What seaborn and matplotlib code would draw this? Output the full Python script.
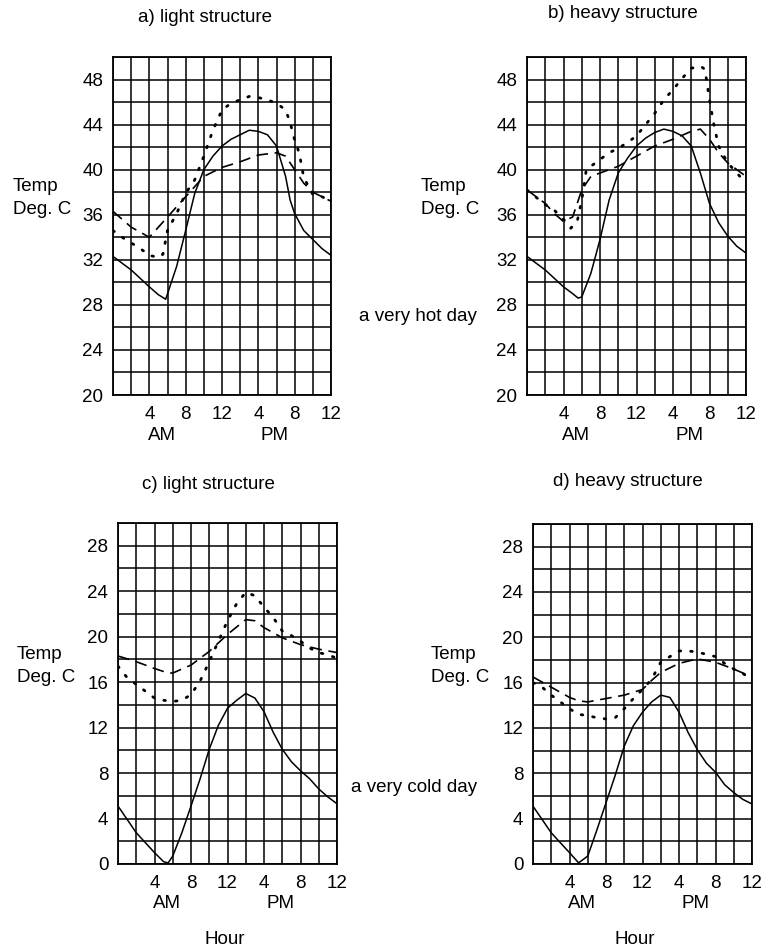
import matplotlib
matplotlib.use("Agg")
import matplotlib.pyplot as plt
import seaborn as sns

# ---------------- data ----------------
x_tick_pos = [4, 8, 12, 16, 20, 24]
x_tick_labels = ["4", "8", "12", "4", "8", "12"]

# a) light structure, very hot day
a_solid_h = [0, 2, 4, 5, 5.8, 7, 8, 9, 10, 11, 12, 13, 14, 15, 16, 17, 18, 19, 19.5, 20, 21, 22, 23, 24]
a_solid_v = [32.3, 31.1, 29.6, 28.9, 28.5, 31.4, 34.6, 37.9, 40.0, 41.2, 42.1, 42.7, 43.1, 43.5, 43.4, 43.1, 42.1, 39.4, 37.3, 36.1, 34.6, 33.8, 33.0, 32.4]
a_dash_h = [0, 2, 4, 6, 8, 10, 12, 14, 16, 18, 19, 20, 21, 22, 23, 24]
a_dash_v = [36.3, 34.9, 34.0, 35.8, 37.6, 39.4, 40.2, 40.7, 41.3, 41.5, 41.2, 40.0, 38.8, 38.0, 37.6, 37.2]
a_dot_h = [0, 1, 2, 3, 4, 5, 5.5, 6, 7, 8, 9, 10, 11, 12, 13, 14, 15, 16, 17, 18, 19, 19.5, 20, 20.5, 21, 22, 23, 24]
a_dot_v = [34.6, 34.0, 33.5, 33.0, 32.4, 32.2, 32.5, 34.6, 36.1, 37.9, 39.1, 41.2, 43.5, 45.3, 45.9, 46.2, 46.5, 46.4, 46.2, 45.9, 45.3, 44.2, 42.6, 41.5, 39.3, 37.8, 37.6, 37.2]

# b) heavy structure, very hot day
b_solid_h = [0, 2, 4, 5, 5.6, 6, 7, 8, 9, 10, 11, 12, 13, 14, 15, 16, 17, 18, 19, 20, 21, 22, 23, 24]
b_solid_v = [32.3, 31.1, 29.6, 29.0, 28.6, 28.7, 30.8, 33.8, 37.3, 39.7, 41.0, 42.1, 42.8, 43.3, 43.6, 43.4, 43.0, 42.1, 39.7, 37.0, 35.3, 34.1, 33.2, 32.6]
b_dash_h = [0, 2, 3, 4, 5, 6, 7, 8, 10, 12, 14, 16, 18, 19, 20, 21, 22, 23, 24]
b_dash_v = [38.2, 37.0, 36.1, 35.4, 35.8, 38.2, 39.4, 39.7, 40.3, 41.2, 42.1, 42.7, 43.4, 43.6, 42.7, 41.5, 40.6, 40.0, 39.4]
b_dot_h = [0, 2, 3, 4, 4.8, 5.5, 6, 6.5, 7, 8, 9, 10, 11, 12, 13, 14, 15, 16, 17, 18, 19, 19.5, 20, 20.5, 21, 22, 23, 24]
b_dot_v = [38.2, 36.9, 36.4, 35.6, 34.8, 35.4, 37.3, 40.0, 40.3, 40.9, 41.5, 41.9, 42.4, 43.0, 44.0, 45.0, 46.2, 47.1, 48.1, 49.0, 49.2, 48.9, 46.2, 43.9, 42.1, 40.6, 39.7, 38.8]

# c) light structure, very cold day
c_solid_h = [0, 2, 4, 5, 5.5, 6, 7, 8, 9, 10, 11, 12, 13, 14, 15, 16, 17, 18, 19, 20, 21, 22, 23, 24]
c_solid_v = [5.1, 2.75, 1.0, 0.2, 0.1, 0.7, 2.75, 5.1, 7.5, 10.1, 12.2, 13.7, 14.4, 15.0, 14.6, 13.4, 11.6, 10.1, 9.0, 8.2, 7.5, 6.6, 5.9, 5.3]
c_dash_h = [0, 2, 4, 5.5, 6, 8, 10, 12, 14, 15, 16, 18, 20, 22, 24]
c_dash_v = [18.3, 17.8, 17.2, 16.8, 16.8, 17.5, 18.7, 20.2, 21.5, 21.4, 20.8, 19.9, 19.3, 18.9, 18.6]
c_dot_h = list(range(25))
c_dot_v = [17.4, 16.4, 15.8, 15.2, 14.6, 14.4, 14.3, 14.4, 14.9, 16.1, 17.8, 19.6, 21.4, 22.9, 23.9, 23.6, 22.6, 21.7, 20.5, 20.1, 19.6, 19.0, 18.6, 18.4, 18.1]

# d) heavy structure, very cold day
d_solid_h = [0, 2, 4, 5, 6, 7, 8, 9, 10, 11, 12, 13, 14, 15, 16, 17, 18, 19, 20, 21, 22, 23, 24]
d_solid_v = [5.1, 2.75, 1.0, 0.1, 0.7, 3.0, 5.4, 7.8, 10.4, 12.2, 13.4, 14.3, 14.9, 14.7, 13.4, 11.6, 10.1, 8.9, 8.1, 7.0, 6.3, 5.7, 5.3]
d_dash_h = [0, 2, 4, 5, 6, 8, 10, 12, 13, 14, 16, 18, 20, 22, 24]
d_dash_v = [16.5, 15.6, 14.7, 14.4, 14.3, 14.6, 14.9, 15.4, 16.2, 16.9, 17.7, 18.1, 17.8, 17.2, 16.5]
d_dot_h = list(range(25))
d_dot_v = [16.0, 15.6, 14.9, 14.3, 13.7, 13.2, 13.1, 12.9, 12.8, 12.9, 13.7, 14.6, 15.4, 16.3, 17.8, 18.3, 18.8, 18.8, 18.7, 18.5, 18.3, 17.7, 17.2, 16.8, 16.3]

titles = ["a) light structure", "b) heavy structure", "c) light structure", "d) heavy structure"]

# ---------------- figure ----------------
sns.set_style("white")
plt.rcParams["font.family"] = ["Liberation Sans", "DejaVu Sans"]
plt.rcParams["text.color"] = "black"
plt.rcParams["xtick.color"] = "black"
plt.rcParams["ytick.color"] = "black"
FS = 13.5

W, H = 761, 952
fig = plt.figure(figsize=(W / 100, H / 100), dpi=100)

def fx(px):
    return px / W

def fy(py):
    return 1 - py / H

panels = [
    dict(box=(113, 57, 218, 338), ylim=(20, 50), yt=range(20, 49, 4),
         s=(a_solid_h, a_solid_v), d=(a_dash_h, a_dash_v), o=(a_dot_h, a_dot_v)),
    dict(box=(527, 57, 219, 338), ylim=(20, 50), yt=range(20, 49, 4),
         s=(b_solid_h, b_solid_v), d=(b_dash_h, b_dash_v), o=(b_dot_h, b_dot_v)),
    dict(box=(118, 523, 219, 341), ylim=(0, 30), yt=range(0, 29, 4),
         s=(c_solid_h, c_solid_v), d=(c_dash_h, c_dash_v), o=(c_dot_h, c_dot_v)),
    dict(box=(533, 524, 219, 340), ylim=(0, 30), yt=range(0, 29, 4),
         s=(d_solid_h, d_solid_v), d=(d_dash_h, d_dash_v), o=(d_dot_h, d_dot_v)),
]

for p in panels:
    l, t, w, h = p["box"]
    ax = fig.add_axes([fx(l), fy(t + h), w / W, h / H])
    ax.set_xlim(0, 24)
    ax.set_ylim(*p["ylim"])
    ax.set_xticks(x_tick_pos)
    ax.set_xticklabels(x_tick_labels)
    ax.set_yticks(list(p["yt"]))
    ax.set_xticks(range(0, 25, 2), minor=True)
    ax.set_yticks(range(p["ylim"][0], p["ylim"][1] + 1, 2), minor=True)
    ax.grid(which="both", color="black", linewidth=1.1)
    ax.set_axisbelow(True)
    ax.tick_params(which="both", length=0, labelsize=FS,
                   colors="black", labelcolor="black")
    ax.tick_params(axis="y", pad=7)
    ax.tick_params(axis="x", pad=8)
    for sp in ax.spines.values():
        sp.set_color("black")
        sp.set_linewidth(1.3)

    sns.lineplot(x=p["s"][0], y=p["s"][1], ax=ax, color="black", linewidth=1.1,
                 linestyle="-", zorder=3)
    sns.lineplot(x=p["d"][0], y=p["d"][1], ax=ax, color="black", linewidth=1.2,
                 linestyle=(0, (7, 4)), zorder=3)
    sns.lineplot(x=p["o"][0], y=p["o"][1], ax=ax, color="black", linewidth=2.0,
                 linestyle=(0, (0.6, 3.6)), dash_capstyle="round", zorder=3)
    ax.set_xlabel("")
    ax.set_ylabel("")

    ax.annotate("AM", xy=(5.4, 0), xycoords=("data", "axes fraction"),
                xytext=(0, -40), textcoords="offset pixels",
                ha="center", va="center", fontsize=FS, color="black")
    ax.annotate("PM", xy=(17.8, 0), xycoords=("data", "axes fraction"),
                xytext=(0, -40), textcoords="offset pixels",
                ha="center", va="center", fontsize=FS, color="black")

# titles
fig.text(fx(205), fy(18), titles[0], ha="center", va="center", fontsize=FS)
fig.text(fx(623), fy(14), titles[1], ha="center", va="center", fontsize=FS)
fig.text(fx(208), fy(485), titles[2], ha="center", va="center", fontsize=FS)
fig.text(fx(628), fy(481), titles[3], ha="center", va="center", fontsize=FS)

# y labels
for (lx, ly) in [(13, 198), (421, 198), (17, 666), (431, 666)]:
    fig.text(fx(lx), fy(ly), "Temp\nDeg. C", ha="left", va="center",
             fontsize=FS, linespacing=1.45)

fig.text(fx(418), fy(317), "a very hot day", ha="center", va="center", fontsize=FS)
fig.text(fx(414), fy(787), "a very cold day", ha="center", va="center", fontsize=FS)

fig.text(fx(225), fy(940), "Hour", ha="center", va="center", fontsize=FS)
fig.text(fx(635), fy(940), "Hour", ha="center", va="center", fontsize=FS)

fig.savefig("out.png", dpi=100, facecolor="white")
